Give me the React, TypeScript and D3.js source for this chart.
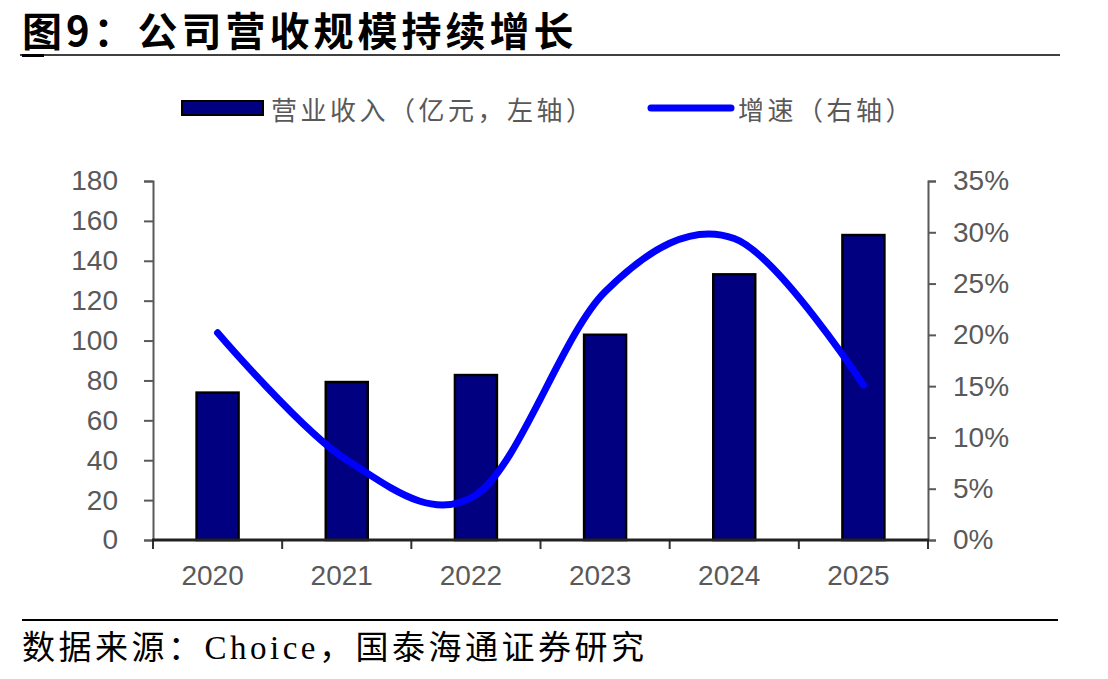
import React, { useEffect, useRef } from 'react';
import * as d3 from 'd3';

// values
const years = ['2020', '2021', '2022', '2023', '2024', '2025'];
const revenue = [73.9, 79.2, 82.7, 102.9, 133.2, 152.9]; // 亿元, left axis
const growth = [0.202, 0.078, 0.044, 0.242, 0.294, 0.151]; // right axis
const leftTicks = [0, 20, 40, 60, 80, 100, 120, 140, 160, 180];
const rightTicks = [0, 0.05, 0.1, 0.15, 0.2, 0.25, 0.3, 0.35];

const title = '图9：公司营收规模持续增长';
const source = '数据来源：Choice，国泰海通证券研究';
const barLabel = '营业收入（亿元，左轴）';
const lineLabel = '增速（右轴）';

const width = 1108;
const height = 679;
const plot = { left: 153, right: 928, top: 181, bottom: 540 };

const navy = '#000080';
const blue = '#0000ff';
const grey = '#595959';
const tickFont = '"Liberation Sans", Arial, sans-serif';
const cjkFont = '"Noto Sans CJK SC", sans-serif';

export default function App() {
    const svgRef = useRef<SVGSVGElement>(null);

    useEffect(() => {
        const svg = d3.select(svgRef.current);
        svg.selectAll('*').remove();

        // scales
        const x = d3.scaleBand()
            .domain(years)
            .range([plot.left, plot.right])
            .paddingInner(0.675)
            .paddingOuter(0.3375);
        const yLeft = d3.scaleLinear().domain([0, 180]).range([plot.bottom, plot.top]);
        const yRight = d3.scaleLinear().domain([0, 0.35]).range([plot.bottom, plot.top]);

        // title + rules
        svg.append('text')
            .attr('x', 22).attr('y', 29)
            .attr('dominant-baseline', 'central')
            .attr('font-family', cjkFont)
            .attr('font-weight', 'bold')
            .attr('font-size', 40)
            .attr('letter-spacing', 4)
            .attr('fill', '#000')
            .text(title);
        svg.append('line')
            .attr('x1', 20).attr('x2', 1060).attr('y1', 55).attr('y2', 55)
            .attr('stroke', '#000').attr('stroke-width', 1.5);
        svg.append('line')
            .attr('x1', 22).attr('x2', 44).attr('y1', 55.5).attr('y2', 55.5)
            .attr('stroke', '#000').attr('stroke-width', 3);
        svg.append('line')
            .attr('x1', 22).attr('x2', 1058).attr('y1', 620).attr('y2', 620)
            .attr('stroke', '#000').attr('stroke-width', 2);
        svg.append('text')
            .attr('x', 22).attr('y', 648)
            .attr('dominant-baseline', 'central')
            .attr('font-family', '"Liberation Serif", "Noto Sans CJK SC", serif')
            .attr('font-size', 33)
            .attr('letter-spacing', 3.5)
            .attr('fill', '#000')
            .text(source);

        // legend
        const legend = svg.append('g');
        legend.append('rect')
            .attr('x', 182).attr('y', 101).attr('width', 81).attr('height', 14)
            .attr('fill', navy).attr('stroke', '#000').attr('stroke-width', 2);
        legend.append('text')
            .attr('x', 271).attr('y', 108)
            .attr('dominant-baseline', 'central')
            .attr('font-family', cjkFont).attr('font-size', 26).attr('letter-spacing', 3.5)
            .attr('fill', grey)
            .text(barLabel);
        legend.append('line')
            .attr('x1', 651).attr('x2', 731).attr('y1', 108).attr('y2', 108)
            .attr('stroke', blue).attr('stroke-width', 7).attr('stroke-linecap', 'round');
        legend.append('text')
            .attr('x', 738).attr('y', 108)
            .attr('dominant-baseline', 'central')
            .attr('font-family', cjkFont).attr('font-size', 26).attr('letter-spacing', 3.5)
            .attr('fill', grey)
            .text(lineLabel);

        // axes
        const styleAxis = (g: any) => {
            g.select('.domain').attr('stroke', grey).attr('stroke-width', 2);
            g.selectAll('.tick line').attr('stroke', grey).attr('stroke-width', 2);
            g.selectAll('.tick text')
                .attr('fill', grey)
                .attr('font-family', tickFont)
                .attr('font-size', 28);
        };

        svg.append('g')
            .attr('transform', `translate(${plot.left},0)`)
            .call(d3.axisLeft(yLeft).tickValues(leftTicks).tickSize(9).tickSizeOuter(9).tickPadding(26))
            .call(styleAxis);

        svg.append('g')
            .attr('transform', `translate(${plot.right},0)`)
            .call(d3.axisRight(yRight).tickValues(rightTicks).tickSize(8).tickSizeOuter(8).tickPadding(17)
                .tickFormat(d => `${Math.round(+d * 100)}%`))
            .call(styleAxis);

        // bars
        svg.append('g')
            .selectAll('rect')
            .data(years)
            .enter()
            .append('rect')
            .attr('x', d => x(d)!)
            .attr('width', x.bandwidth())
            .attr('y', (d, i) => yLeft(revenue[i]))
            .attr('height', (d, i) => plot.bottom - yLeft(revenue[i]))
            .attr('fill', navy)
            .attr('stroke', '#000')
            .attr('stroke-width', 2.5);

        // x axis drawn over the bars
        const xAxis = svg.append('g')
            .attr('transform', `translate(0,${plot.bottom})`)
            .call(d3.axisBottom(x).tickSize(0).tickPadding(25));
        xAxis.select('.domain').remove();
        xAxis.selectAll('.tick text')
            .attr('fill', grey)
            .attr('font-family', tickFont)
            .attr('font-size', 28)
            .attr('dx', -5);
        const bounds = [plot.left, ...years.map(d => x(d)! + x.bandwidth() / 2 + x.step() / 2)];
        svg.append('g')
            .selectAll('line')
            .data(bounds)
            .enter()
            .append('line')
            .attr('x1', d => d).attr('x2', d => d)
            .attr('y1', plot.bottom).attr('y2', plot.bottom + 9)
            .attr('stroke', '#333').attr('stroke-width', 2);
        svg.append('line')
            .attr('x1', plot.left - 1).attr('x2', plot.right + 1)
            .attr('y1', plot.bottom).attr('y2', plot.bottom)
            .attr('stroke', '#222').attr('stroke-width', 3);

        // growth line
        const line = d3.line<number>()
            .x((d, i) => x(years[i])! + x.bandwidth() / 2)
            .y(d => yRight(d))
            .curve(d3.curveCardinal.tension(0));
        svg.append('path')
            .datum(growth)
            .attr('d', line)
            .attr('fill', 'none')
            .attr('stroke', blue)
            .attr('stroke-width', 7)
            .attr('stroke-linecap', 'round')
            .attr('stroke-linejoin', 'round');
    }, []);

    return (
        <svg
            ref={svgRef}
            width={width}
            height={height}
            style={{ position: 'absolute', left: 0, top: 0, background: '#fff' }}
        />
    );
}
